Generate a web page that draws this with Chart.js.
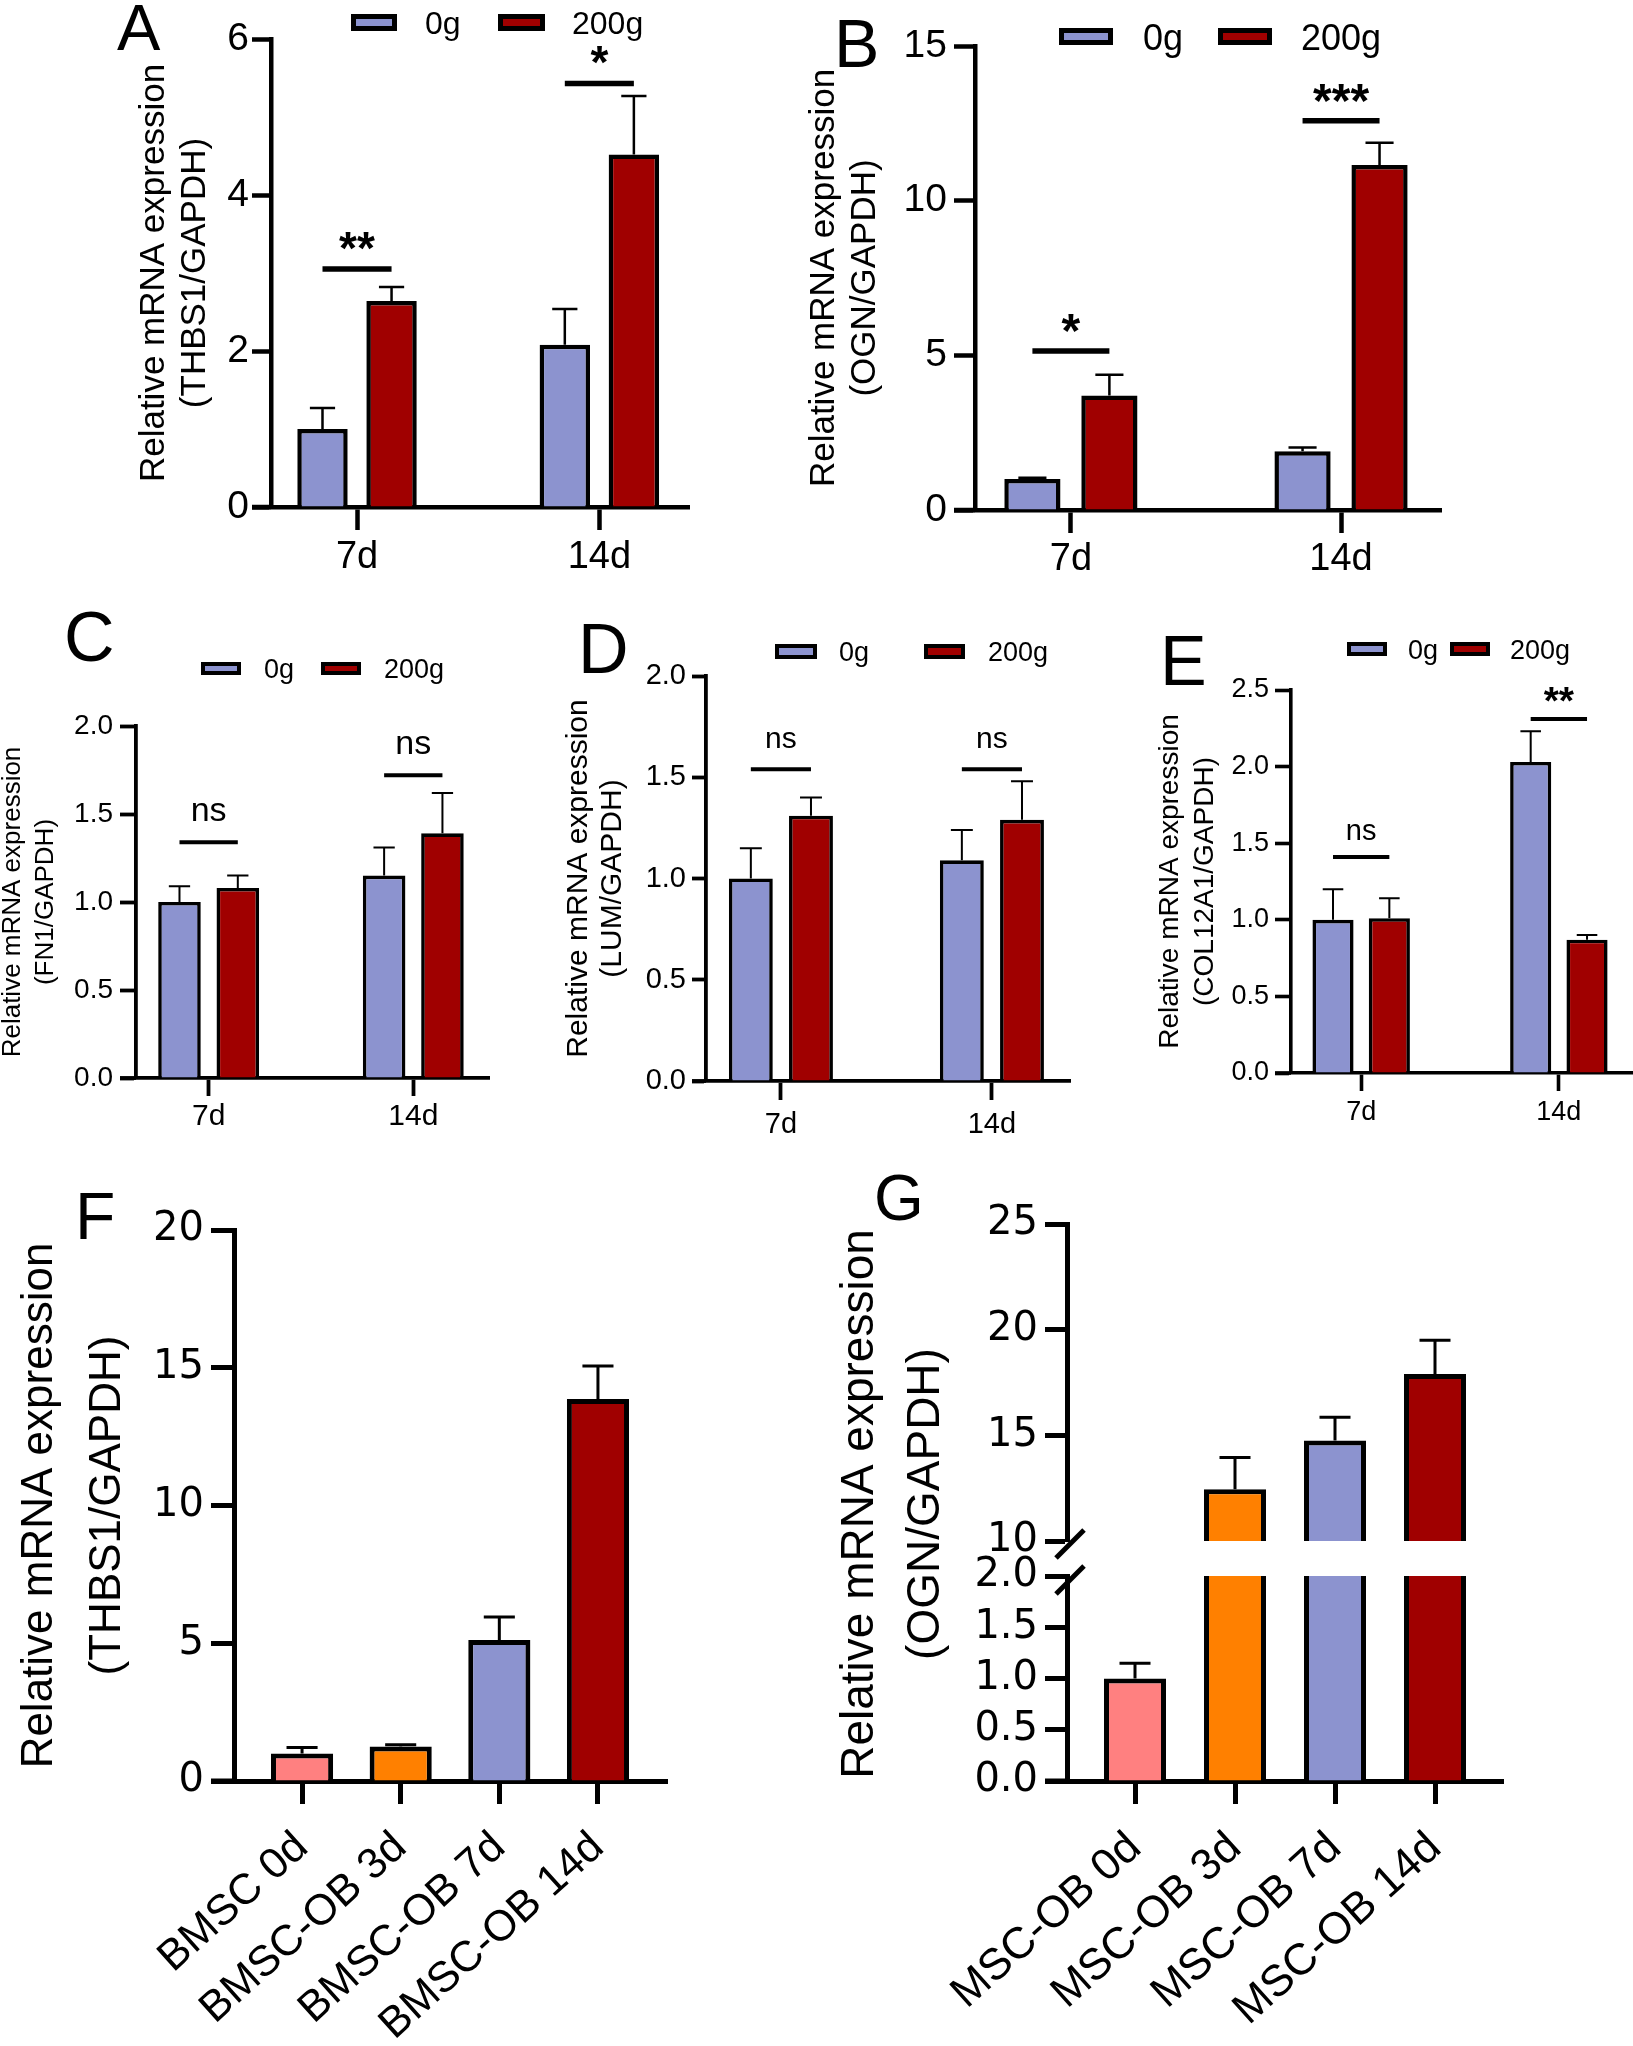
<!DOCTYPE html>
<html>
<head>
<meta charset="utf-8">
<title>Relative mRNA expression</title>
<script src="https://cdn.jsdelivr.net/npm/chart.js@4.4.1/dist/chart.umd.min.js"></script>
<style>
  html, body { margin: 0; padding: 0; background: #fff; }
  body { position: relative; width: 1633px; height: 2046px; overflow: hidden; }
  canvas { position: absolute; }
</style>
</head>
<body>
<canvas id="chartA"></canvas>
<canvas id="chartB"></canvas>
<canvas id="chartC"></canvas>
<canvas id="chartD"></canvas>
<canvas id="chartE"></canvas>
<canvas id="chartF"></canvas>
<canvas id="chartGTop"></canvas>
<canvas id="chartGBottom"></canvas>
<script>
const BLUE = '#8C93CF';
const RED = '#A00000';
const PINK = '#FF8080';
const ORANGE = '#FF8000';
const FAMILY = '"Liberation Sans", Arial, Helvetica, sans-serif';
const WIDE = '"DejaVu Sans", Verdana, sans-serif';

// ---- values ----
const timePoints = ['7d', '14d'];
const loadGroups = ['0g', '200g'];

// A: THBS1 under load
const thbs1Load0g = [1.0, 2.08];
const thbs1Load0gErr = [0.27, 0.46];
const thbs1Load200g = [2.64, 4.52];
const thbs1Load200gErr = [0.18, 0.75];
const thbs1LoadSig = ['**', '*'];
const thbs1LoadSigAt = [3.05, 5.43];

// B: OGN under load
const ognLoad0g = [1.0, 1.9];
const ognLoad0gErr = [0.04, 0.12];
const ognLoad200g = [3.7, 11.15];
const ognLoad200gErr = [0.67, 0.72];
const ognLoadSig = ['*', '***'];
const ognLoadSigAt = [5.14, 12.58];

// C: FN1
const fn1Load0g = [1.0, 1.15];
const fn1Load0gErr = [0.09, 0.16];
const fn1Load200g = [1.08, 1.39];
const fn1Load200gErr = [0.07, 0.23];
const fn1LoadSig = ['ns', 'ns'];
const fn1LoadSigAt = [1.34, 1.72];

// D: LUM
const lumLoad0g = [1.0, 1.09];
const lumLoad0gErr = [0.15, 0.15];
const lumLoad200g = [1.31, 1.29];
const lumLoad200gErr = [0.09, 0.19];
const lumLoadSig = ['ns', 'ns'];
const lumLoadSigAt = [1.54, 1.54];

// E: COL12A1
const colLoad0g = [1.0, 2.03];
const colLoad0gErr = [0.2, 0.2];
const colLoad200g = [1.01, 0.87];
const colLoad200gErr = [0.13, 0.03];
const colLoadSig = ['ns', '**'];
const colLoadSigAt = [1.41, 2.31];

// F: THBS1 during osteogenic differentiation
const bmscStages = ['BMSC 0d', 'BMSC-OB 3d', 'BMSC-OB 7d', 'BMSC-OB 14d'];
const thbs1Diff = [1.0, 1.25, 5.12, 13.87];
const thbs1DiffErr = [0.22, 0.07, 0.83, 1.19];

// G: OGN during osteogenic differentiation
const mscStages = ['MSC-OB 0d', 'MSC-OB 3d', 'MSC-OB 7d', 'MSC-OB 14d'];
const ognDiff = [1.0, 12.45, 14.75, 17.9];
const ognDiffErr = [0.15, 1.5, 1.1, 1.6];
const stageColors = [PINK, ORANGE, BLUE, RED];

function loadSeries(v0, e0, v1, e1) {
  return [
    { name: loadGroups[0], values: v0, errors: e0, color: BLUE },
    { name: loadGroups[1], values: v1, errors: e1, color: RED }
  ];
}

// error bars, significance bars, legend, panel letters (page coords -> canvas coords)
function annotations(p) {
  const [bx, by] = p.box;
  const X = v => v - bx;
  const Y = v => v - by;
  return {
    id: 'annotations',
    afterDatasetsDraw(chart) {
      const ctx = chart.ctx, yScale = chart.scales.y, a = chart.chartArea;
      ctx.save();
      ctx.beginPath();
      ctx.rect(a.left, a.top - 2, a.right - a.left, a.bottom - a.top + 2);
      ctx.clip();
      ctx.strokeStyle = '#000';
      ctx.lineWidth = p.ew;
      p.series.forEach((s, d) => {
        chart.getDatasetMeta(d).data.forEach((bar, i) => {
          const yTop = yScale.getPixelForValue(s.values[i] + s.errors[i]);
          const half = bar.width / 4;
          ctx.beginPath();
          ctx.moveTo(bar.x, bar.y);
          ctx.lineTo(bar.x, yTop);
          ctx.moveTo(bar.x - half, yTop);
          ctx.lineTo(bar.x + half, yTop);
          ctx.stroke();
        });
      });
      ctx.restore();
    },
    afterDraw(chart) {
      const ctx = chart.ctx, yScale = chart.scales.y, a = chart.chartArea;
      ctx.save();
      ctx.fillStyle = '#000';
      ctx.strokeStyle = '#000';

      // x axis line runs out to the end of the y ticks
      if (!p.x.hide) {
        ctx.lineWidth = p.lw;
        ctx.beginPath();
        ctx.moveTo(a.left - p.y.tick, a.bottom);
        ctx.lineTo(a.left, a.bottom);
        ctx.stroke();
      }

      if (p.sig) {
        const m0 = chart.getDatasetMeta(0).data;
        const m1 = chart.getDatasetMeta(1).data;
        p.sig.labels.forEach((lab, i) => {
          const x1 = m0[i].x, x2 = m1[i].x;
          const ly = yScale.getPixelForValue(p.sig.levels[i]);
          ctx.lineWidth = p.sig.lw;
          ctx.beginPath();
          ctx.moveTo(x1, ly);
          ctx.lineTo(x2, ly);
          ctx.stroke();
          const star = lab.includes('*');
          ctx.font = (star ? 'bold ' + p.sig.star : p.sig.ns) + 'px ' + FAMILY;
          const m = ctx.measureText(lab);
          ctx.textAlign = 'center';
          ctx.textBaseline = 'alphabetic';
          ctx.fillText(lab, (x1 + x2) / 2, ly - p.sig.gap + (m.actualBoundingBoxAscent - m.actualBoundingBoxDescent) / 2);
        });
      }

      if (p.legend) {
        ctx.font = p.legend.size + 'px ' + FAMILY;
        ctx.textAlign = 'left';
        ctx.textBaseline = 'alphabetic';
        const capH = ctx.measureText('0').actualBoundingBoxAscent;
        const lw = p.legend.lw;
        p.legend.items.forEach(([lx, ly, w, h, tx], k) => {
          ctx.fillStyle = p.series[k].color;
          ctx.fillRect(X(lx), Y(ly), w, h);
          ctx.lineWidth = lw;
          ctx.strokeRect(X(lx) + lw / 2, Y(ly) + lw / 2, w - lw, h - lw);
          ctx.fillStyle = '#000';
          ctx.fillText(p.series[k].name, X(tx), Y(ly + h / 2) + capH / 2);
        });
      }

      if (p.sideTitle) {
        const t = p.sideTitle;
        ctx.font = t.size + 'px ' + FAMILY;
        ctx.textAlign = 'center';
        ctx.textBaseline = 'middle';
        t.lines.forEach((line, k) => {
          ctx.save();
          ctx.translate(X(t.x[k]), Y(t.y));
          ctx.rotate(-Math.PI / 2);
          ctx.fillText(line, 0, 0);
          ctx.restore();
        });
      }

      if (p.breaks) {
        ctx.lineWidth = p.lw;
        p.breaks.forEach(([x1, y1, x2, y2]) => {
          ctx.beginPath();
          ctx.moveTo(X(x1), Y(y1));
          ctx.lineTo(X(x2), Y(y2));
          ctx.stroke();
        });
      }

      if (p.letter) {
        ctx.font = p.letter.size + 'px ' + FAMILY;
        ctx.textAlign = 'left';
        ctx.textBaseline = 'alphabetic';
        ctx.fillText(p.letter.text, X(p.letter.x), Y(p.letter.y));
      }
      ctx.restore();
    }
  };
}

function makeChart(p) {
  const canvas = document.getElementById(p.id);
  const [bx, by, bw, bh] = p.box;
  const [left, top, right, bottom] = p.area;
  canvas.width = bw;
  canvas.height = bh;
  Object.assign(canvas.style, { left: bx + 'px', top: by + 'px', width: bw + 'px', height: bh + 'px' });

  const title = p.title ? {
    display: true,
    text: p.title.text,
    color: '#000',
    font: { family: FAMILY, size: p.title.size, lineHeight: p.title.lh / p.title.size },
    padding: { top: p.title.x - bx - p.title.lh / 2, bottom: 0 }
  } : { display: false };

  return new Chart(canvas, {
    type: 'bar',
    data: {
      datasets: p.series.map(s => ({
        label: s.name,
        data: s.values.map((v, i) => ({ x: i + 1, y: v })),
        backgroundColor: s.color,
        borderColor: '#000',
        borderWidth: p.bw,
        borderSkipped: 'start',
        clip: 0,
        categoryPercentage: p.catPct,
        barPercentage: p.barPct
      }))
    },
    options: {
      responsive: false,
      animation: false,
      devicePixelRatio: 1,
      events: [],
      layout: { padding: { left: 0, top: top - by, right: bx + bw - right, bottom: 0 } },
      plugins: { legend: { display: false }, tooltip: { enabled: false } },
      scales: {
        x: {
          type: 'linear',
          bounds: 'data',
          min: p.xMin,
          max: p.xMax,
          offset: false,
          afterBuildTicks: s => { s.ticks = p.labels.map((_, i) => ({ value: i + 1 })); },
          afterFit: s => { s.height = by + bh - bottom; },
          ticks: {
            display: !p.x.hide,
            autoSkip: false,
            callback: v => p.labels[v - 1],
            color: '#000',
            font: { family: FAMILY, size: p.x.font },
            padding: p.x.pad,
            minRotation: p.x.rot || 0,
            maxRotation: p.x.rot || 0
          },
          grid: { display: !p.x.hide, offset: false, drawOnChartArea: false, drawTicks: true, tickLength: p.x.tick, tickWidth: p.lw, tickColor: '#000' },
          border: { display: !p.x.hide, color: '#000', width: p.lw }
        },
        y: {
          min: p.y.min,
          max: p.y.max,
          afterFit: s => { s.width = left - bx; },
          ticks: {
            stepSize: p.y.step,
            callback: v => v.toFixed(p.y.dec),
            color: '#000',
            font: { family: p.y.family || FAMILY, size: p.y.font },
            padding: p.y.pad
          },
          grid: { drawOnChartArea: false, drawTicks: true, tickLength: p.y.tick, tickWidth: p.lw, tickColor: '#000' },
          border: { color: '#000', width: p.lw },
          title: title
        }
      }
    },
    plugins: [annotations(p)]
  });
}

const grouped = { xMin: 0.645, xMax: 2.37, catPct: 0.57, barPct: 0.73, labels: timePoints };
const staged = { xMin: 0.31, xMax: 4.70, catPct: 1, barPct: 0.63 };

makeChart({
  ...grouped, id: 'chartA', box: [0, 0, 740, 600], area: [271, 39, 689, 507],
  series: loadSeries(thbs1Load0g, thbs1Load0gErr, thbs1Load200g, thbs1Load200gErr),
  y: { min: 0, max: 6, step: 2, dec: 0, font: 39, tick: 19, pad: 3 },
  x: { font: 38, tick: 23, pad: 5 },
  lw: 4.5, bw: 4.5, ew: 2.5,
  title: { text: ['Relative mRNA expression', '(THBS1/GAPDH)'], size: 35, lh: 41, x: 154 },
  letter: { text: 'A', x: 117, y: 50, size: 65 },
  legend: { size: 32, lw: 5, items: [[351, 14, 46, 17, 425], [498, 14, 47, 17, 572]] },
  sig: { labels: thbs1LoadSig, levels: thbs1LoadSigAt, star: 46, ns: 32, gap: 28, lw: 5.5 }
});

makeChart({
  ...grouped, id: 'chartB', box: [760, 0, 873, 600], area: [975, 46, 1441, 510],
  series: loadSeries(ognLoad0g, ognLoad0gErr, ognLoad200g, ognLoad200gErr),
  y: { min: 0, max: 15, step: 5, dec: 0, font: 39, tick: 21, pad: 7 },
  x: { font: 38, tick: 23, pad: 4 },
  lw: 4.5, bw: 4.5, ew: 2.5,
  title: { text: ['Relative mRNA expression', '(OGN/GAPDH)'], size: 35, lh: 41, x: 824 },
  letter: { text: 'B', x: 834, y: 67, size: 68 },
  legend: { size: 36, lw: 5, items: [[1059, 28, 54, 17, 1143], [1218, 28, 54, 17, 1301]] },
  sig: { labels: ognLoadSig, levels: ognLoadSigAt, star: 48, ns: 32, gap: 28, lw: 5.5 }
});

makeChart({
  ...grouped, id: 'chartC', box: [-10, 600, 530, 560], area: [136, 726, 489, 1078],
  series: loadSeries(fn1Load0g, fn1Load0gErr, fn1Load200g, fn1Load200gErr),
  y: { min: 0, max: 2, step: 0.5, dec: 1, font: 28, tick: 16, pad: 7 },
  x: { font: 30, tick: 18, pad: 3 },
  lw: 3.8, bw: 3.6, ew: 2,
  title: { text: ['Relative mRNA expression', '(FN1/GAPDH)'], size: 26, lh: 33.5, x: 12.5 },
  letter: { text: 'C', x: 64, y: 661, size: 70 },
  legend: { size: 27, lw: 4, items: [[201, 662, 40, 13, 264], [321, 662, 40, 13, 384]] },
  sig: { labels: fn1LoadSig, levels: fn1LoadSigAt, star: 40, ns: 34, gap: 30, lw: 4 }
});

makeChart({
  ...grouped, id: 'chartD', box: [520, 600, 560, 560], area: [706, 676, 1070, 1081],
  series: loadSeries(lumLoad0g, lumLoad0gErr, lumLoad200g, lumLoad200gErr),
  y: { min: 0, max: 2, step: 0.5, dec: 1, font: 29, tick: 14, pad: 6 },
  x: { font: 29, tick: 19, pad: 8 },
  lw: 3.8, bw: 3.6, ew: 2,
  title: { text: ['Relative mRNA expression', '(LUM/GAPDH)'], size: 30, lh: 34, x: 579 },
  letter: { text: 'D', x: 578, y: 673, size: 70 },
  legend: { size: 27, lw: 4, items: [[775, 644, 42, 15, 839], [924, 644, 41, 15, 988]] },
  sig: { labels: lumLoadSig, levels: lumLoadSigAt, star: 40, ns: 30, gap: 29, lw: 4 }
});

makeChart({
  ...grouped, id: 'chartE', box: [1080, 600, 553, 560], area: [1291, 690, 1632, 1073],
  series: loadSeries(colLoad0g, colLoad0gErr, colLoad200g, colLoad200gErr),
  y: { min: 0, max: 2.5, step: 0.5, dec: 1, font: 27, tick: 16, pad: 6 },
  x: { font: 27, tick: 18, pad: 5 },
  lw: 3.6, bw: 3.6, ew: 2,
  title: { text: ['Relative mRNA expression', '(COL12A1/GAPDH)'], size: 28, lh: 35, x: 1170 },
  letter: { text: 'E', x: 1160, y: 685, size: 70 },
  legend: { size: 27, lw: 4, items: [[1347, 642, 40, 14, 1408], [1450, 642, 40, 14, 1510]] },
  sig: { labels: colLoadSig, levels: colLoadSigAt, star: 39, ns: 29, gap: 25, lw: 4 }
});

makeChart({
  ...staged, id: 'chartF', box: [0, 1160, 760, 886], area: [234, 1230, 667, 1781],
  labels: bmscStages,
  series: [{ name: 'THBS1', values: thbs1Diff, errors: thbs1DiffErr, color: stageColors }],
  y: { min: 0, max: 20, step: 5, dec: 0, font: 40, family: WIDE, tick: 23, pad: 7 },
  x: { font: 43, rot: 42, tick: 23, pad: 18 },
  lw: 5, bw: 5, ew: 3,
  title: { text: ['Relative mRNA expression', '(THBS1/GAPDH)'], size: 44, lh: 68, x: 40 },
  letter: { text: 'F', x: 75, y: 1239, size: 66 }
});

// G: broken y axis drawn as two charts sharing one x range
makeChart({
  ...staged, xMin: 0.32, xMax: 4.68, barPct: 0.62, id: 'chartGTop', box: [760, 1160, 873, 886], area: [1067, 1224, 1503, 1541],
  labels: mscStages,
  series: [{ name: 'OGN', values: ognDiff, errors: ognDiffErr, color: stageColors }],
  y: { min: 10, max: 25, step: 5, dec: 0, font: 40, family: WIDE, tick: 22, pad: 7 },
  x: { hide: true, font: 43, tick: 23, pad: 18 },
  lw: 5, bw: 5, ew: 3,
  sideTitle: { lines: ['Relative mRNA expression', '(OGN/GAPDH)'], x: [860, 926], y: 1504, size: 46 },
  letter: { text: 'G', x: 874, y: 1220, size: 64 }
});

makeChart({
  ...staged, xMin: 0.32, xMax: 4.68, barPct: 0.62, id: 'chartGBottom', box: [760, 1160, 873, 886], area: [1067, 1576, 1503, 1781],
  labels: mscStages,
  series: [{ name: 'OGN', values: ognDiff, errors: ognDiffErr, color: stageColors }],
  y: { min: 0, max: 2, step: 0.5, dec: 1, font: 40, family: WIDE, tick: 22, pad: 7 },
  x: { font: 44, rot: 42, tick: 23, pad: 18 },
  lw: 5, bw: 5, ew: 3,
  breaks: [[1056, 1558, 1084, 1530], [1056, 1594, 1084, 1566]]
});
</script>
</body>
</html>
